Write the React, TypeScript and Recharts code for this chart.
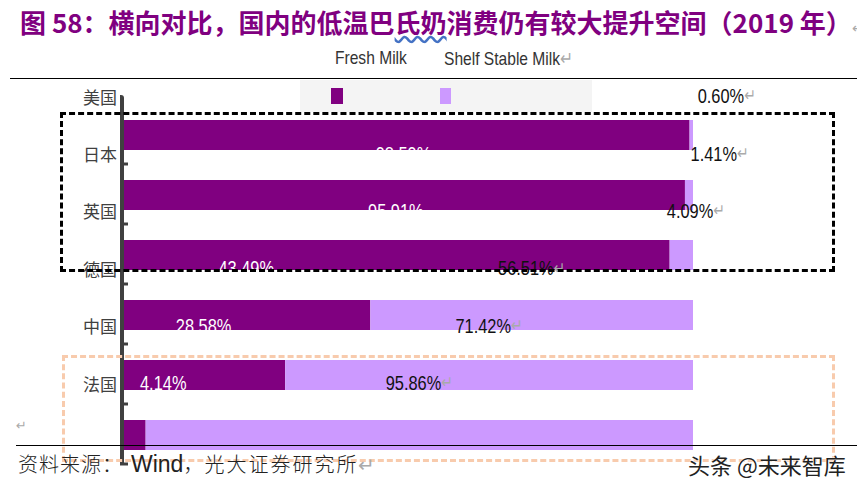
import { BarChart, Bar, XAxis, YAxis, LabelList } from 'recharts'

const countries = ['美国', '日本', '英国', '德国', '中国', '法国']
const freshMilk = [99.4, 98.59, 95.91, 43.49, 28.58, 4.14]
const shelfStable = [0.6, 1.41, 4.09, 56.51, 71.42, 95.86]

const data = countries.map((c, i) => ({ country: c, fresh: freshMilk[i], shelf: shelfStable[i] }))

const FRESH = '#800080'
const SHELF = '#CC99FF'
const SANS = '"Liberation Sans", Arial, sans-serif'
const CJK = '"Noto Sans CJK SC", "Noto Sans", sans-serif'

// the text layer in the source sits a bit above the bars and drifts upward row by row
const shiftY = (i: number) => -39 - i * 2.6

function CountryTick(props: any) {
  const { x, y, payload, index } = props
  const i = payload?.index ?? index ?? 0
  return (
    <g>
      <text x={x} y={y + shiftY(i)} textAnchor="end" dominantBaseline="central"
        fill="#404040" fontSize={17} fontFamily={CJK}>
        {payload.value}
      </text>
      <line x1={x + 3} x2={x + 11} y1={y + 29} y2={y + 29} stroke="#404040" strokeWidth={3} />
    </g>
  )
}

// narrow-looking numbers: squeeze Liberation Sans horizontally
function Narrow({ x, y, anchor, fill, children }: any) {
  return (
    <text transform={`translate(${x},${y}) scale(0.82,1)`} textAnchor={anchor} dominantBaseline="central"
      fill={fill} fontSize={20} fontFamily={SANS}>
      {children}
    </text>
  )
}

function FreshLabel(props: any) {
  const { x, y, width, height, index, value } = props
  const small = width < 40
  return (
    <Narrow x={small ? x + 18 : x + width / 2} y={y + height / 2 + shiftY(index)}
      anchor={small ? 'start' : 'middle'} fill="#fff">
      {value.toFixed(2)}%
    </Narrow>
  )
}

function ShelfLabel(props: any) {
  const { x, y, width, height, index, value } = props
  const small = width < 40
  return (
    <Narrow x={small ? x + 10 - width * 0.55 : x + width / 2} y={y + height / 2 + shiftY(index)}
      anchor={small ? 'start' : 'middle'} fill="#111">
      {value.toFixed(2)}%<tspan fill="#aaa" fontSize={17} fontFamily="DejaVu Sans">↵</tspan>
    </Narrow>
  )
}

const squeeze = { transform: 'scaleX(0.82)', transformOrigin: 'left center' }

export default function App() {
  return (
    <div style={{ position: 'absolute', left: 0, top: 0, width: 857, height: 487, background: '#fff', overflow: 'hidden' }}>
      <div style={{
        position: 'absolute', left: 20, top: 3, whiteSpace: 'nowrap',
        color: FRESH, fontFamily: CJK, fontWeight: 700, fontSize: 26,
      }}>
        图 58：横向对比，国内的低温巴<span style={{ textDecoration: 'underline wavy #4472c4' }}>氏奶</span>消费仍有较大提升空间（2019 年）<span style={{ color: '#aaa', fontWeight: 400, fontSize: 14 }}>↵</span>
      </div>

      <div style={{ position: 'absolute', left: 335, top: 47, fontFamily: SANS, fontSize: 19, color: '#333', whiteSpace: 'nowrap', ...squeeze }}>
        Fresh Milk
      </div>
      <div style={{ position: 'absolute', left: 444, top: 47, fontFamily: SANS, fontSize: 19, color: '#333', whiteSpace: 'nowrap', ...squeeze }}>
        Shelf Stable Milk<span style={{ color: '#aaa' }}>↵</span>
      </div>
      <div style={{ position: 'absolute', left: 10, top: 78, width: 847, height: 1, background: '#000' }} />

      <BarChart width={857} height={487} data={data} layout="vertical" barSize={30}
        margin={{ top: 105, right: 164, bottom: 22, left: 0 }}>
        <XAxis type="number" domain={[0, 100]} hide />
        <YAxis type="category" dataKey="country" width={122} tickLine={false} tickSize={0} tickMargin={5}
          axisLine={{ stroke: '#404040', strokeWidth: 4 }} tick={<CountryTick />} interval={0} />
        <Bar dataKey="fresh" stackId="a" fill={FRESH} isAnimationActive={false}>
          <LabelList dataKey="fresh" content={<FreshLabel />} />
        </Bar>
        <Bar dataKey="shelf" stackId="a" fill={SHELF} isAnimationActive={false}>
          <LabelList dataKey="shelf" content={<ShelfLabel />} />
        </Bar>
      </BarChart>

      {/* axis stub above the plot */}
      <div style={{ position: 'absolute', left: 120, top: 95, width: 4, height: 11, background: '#404040', borderTopRightRadius: 3 }} />

      {/* legend swatch strip */}
      <div style={{ position: 'absolute', left: 300, top: 80, width: 292, height: 32, background: '#f4f4f4' }}>
        <div style={{ position: 'absolute', left: 31, top: 8, width: 12, height: 16, background: FRESH }} />
        <div style={{ position: 'absolute', left: 140, top: 8, width: 11, height: 16, background: SHELF }} />
      </div>

      <div style={{ position: 'absolute', left: 60, top: 112, width: 769, height: 154, border: '3px dashed #000' }} />
      <div style={{ position: 'absolute', left: 62, top: 355, width: 767, height: 101, border: '3px dashed #f8cbad' }} />

      <div style={{ position: 'absolute', left: 16, top: 418, color: '#aaa', fontSize: 13, fontFamily: 'DejaVu Sans' }}>↵</div>
      <div style={{ position: 'absolute', left: 16, top: 445, width: 841, height: 1, background: '#000' }} />
      <div style={{ position: 'absolute', left: 18, top: 449, fontFamily: CJK, fontSize: 20, fontWeight: 300, color: '#222', whiteSpace: 'nowrap', letterSpacing: 1 }}>
        资料来源：<span style={{ fontFamily: SANS, fontSize: 23, fontWeight: 400, letterSpacing: 0, marginLeft: 8 }}>Wind</span>，<span style={{ letterSpacing: 2 }}>光大证券研究所</span><span style={{ color: '#aaa' }}>↵</span>
      </div>
      <div style={{
        position: 'absolute', left: 688, top: 448, fontFamily: CJK, fontSize: 22, color: '#222', whiteSpace: 'nowrap',
        textShadow: '0 0 2px #fff, 0 0 2px #fff',
      }}>
        头条 @未来智库
      </div>
    </div>
  )
}
